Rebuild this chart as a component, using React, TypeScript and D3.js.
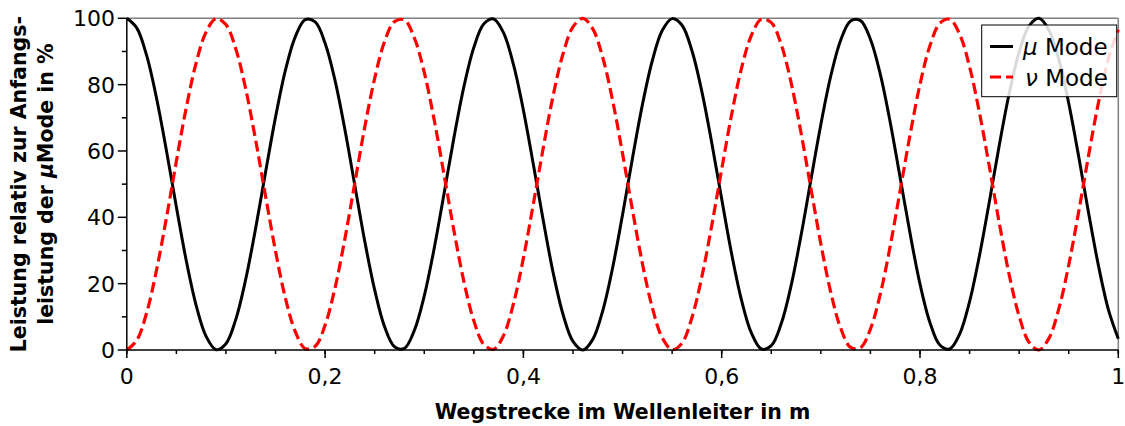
import React from "react";
import * as d3 from "d3";

// sampled every 0.01 m along the waveguide (0 .. 1 m)
const xSteps: number[] = d3.range(0, 101).map((k) => k / 100);

const muMode: number[] = [
  100.0, 97.1, 88.8, 75.9, 60.1, 43.1, 26.9, 13.4, 4.1, 0.1,
  1.9, 9.3, 21.4, 36.8, 53.7, 70.2, 84.4, 94.5, 99.6, 98.9,
  92.5, 81.3, 66.4, 49.6, 32.8, 18.1, 7.0, 1.0, 0.5, 5.9,
  16.3, 30.6, 47.2, 64.1, 79.4, 91.2, 98.3, 99.8, 95.6, 86.0,
  72.3, 56.0, 39.1, 23.3, 10.7, 2.6, 0.0, 3.2, 11.8, 24.8,
  40.8, 57.8, 73.9, 87.2, 96.3, 99.9, 97.9, 90.2, 77.9, 62.4,
  45.5, 29.0, 15.0, 5.1, 0.3, 1.3, 7.9, 19.4, 34.5, 51.3,
  68.0, 82.6, 93.4, 99.2, 99.3, 93.7, 83.1, 68.6, 51.9, 35.1,
  19.9, 8.3, 1.5, 0.3, 4.8, 14.6, 28.5, 44.8, 61.8, 77.4,
  89.8, 97.7, 100.0, 96.5, 87.6, 74.4, 58.4, 41.4, 25.4, 12.2,
  3.4,
];

const nuMode: number[] = [
  0.0, 2.9, 11.2, 24.1, 39.9, 56.9, 73.1, 86.6, 95.9, 99.9,
  98.1, 90.7, 78.6, 63.2, 46.3, 29.8, 15.6, 5.5, 0.4, 1.1,
  7.5, 18.7, 33.6, 50.4, 67.2, 81.9, 93.0, 99.0, 99.5, 94.1,
  83.7, 69.4, 52.8, 35.9, 20.6, 8.8, 1.7, 0.2, 4.4, 14.0,
  27.7, 44.0, 60.9, 76.7, 89.3, 97.4, 100.0, 96.8, 88.2, 75.2,
  59.2, 42.2, 26.1, 12.8, 3.7, 0.1, 2.1, 9.8, 22.1, 37.6,
  54.5, 71.0, 85.0, 94.9, 99.7, 98.7, 92.1, 80.6, 65.5, 48.7,
  32.0, 17.4, 6.6, 0.8, 0.7, 6.3, 16.9, 31.4, 48.1, 64.9,
  80.1, 91.7, 98.5, 99.7, 95.2, 85.4, 71.5, 55.2, 38.2, 22.6,
  10.2, 2.3, 0.0, 3.5, 12.4, 25.6, 41.6, 58.6, 74.6, 87.8,
  96.6,
];

const xMajorTicks = [0, 0.2, 0.4, 0.6, 0.8, 1];
const xMinorTicks = d3.range(0, 21).map((k) => k / 20);
const yMajorTicks = [0, 20, 40, 60, 80, 100];
const yMinorTicks = [10, 30, 50, 70, 90];

const W = 1125;
const H = 426;
const FONT = "'DejaVu Sans', Verdana, sans-serif";

export default function App() {
  const x = d3.scaleLinear().domain([0, 1]).range([126.8, 1118.3]);
  const y = d3.scaleLinear().domain([0, 100]).range([350, 18.3]);

  // smooth through the samples, the original looks like a fine polyline
  const line = d3
    .line<number>()
    .x((_, i) => x(xSteps[i]))
    .y((d) => y(d))
    .curve(d3.curveCatmullRom.alpha(0.5));

  const fmt = (v: number) => String(v).replace(".", ",");

  const [x0, x1] = x.range();
  const [yb, yt] = y.range();
  const xMid = (x0 + x1) / 2;

  return (
    <svg
      width={W}
      height={H}
      style={{ position: "absolute", left: 0, top: 0, background: "#fff" }}
      fontFamily={FONT}
    >
      {/* frame: top + right in gray */}
      <line x1={x0} x2={x1} y1={yt} y2={yt} stroke="#808080" strokeWidth={1.5} />
      <line x1={x1} x2={x1} y1={yt} y2={yb} stroke="#808080" strokeWidth={1.5} />

      {/* curves */}
      <path d={line(muMode) ?? ""} fill="none" stroke="#000" strokeWidth={3} strokeLinejoin="round" />
      <path
        d={line(nuMode) ?? ""}
        fill="none"
        stroke="#ff0000"
        strokeWidth={3.2}
        strokeDasharray="11,5"
      />

      {/* axes */}
      <line x1={x0} x2={x0} y1={yt} y2={yb} stroke="#000" strokeWidth={1.5} />
      <line x1={x0} x2={x1} y1={yb} y2={yb} stroke="#000" strokeWidth={1.5} />

      {xMinorTicks.map((t) => (
        <line key={"xm" + t} x1={x(t)} x2={x(t)} y1={yb} y2={yb + 4} stroke="#000" strokeWidth={1.5} />
      ))}
      {xMajorTicks.map((t) => (
        <g key={"xM" + t}>
          <line x1={x(t)} x2={x(t)} y1={yb} y2={yb + 8} stroke="#000" strokeWidth={1.5} />
          <text x={x(t)} y={384} textAnchor="middle" fontSize={22}>
            {fmt(t)}
          </text>
        </g>
      ))}
      {yMinorTicks.map((t) => (
        <line key={"ym" + t} x1={x0 - 5} x2={x0} y1={y(t)} y2={y(t)} stroke="#000" strokeWidth={1.5} />
      ))}
      {yMajorTicks.map((t) => (
        <g key={"yM" + t}>
          <line x1={x0 - 9} x2={x0} y1={y(t)} y2={y(t)} stroke="#000" strokeWidth={1.5} />
          <text x={115} y={y(t) + 8} textAnchor="end" fontSize={22}>
            {t}
          </text>
        </g>
      ))}

      {/* axis titles */}
      <text x={xMid} y={419} textAnchor="middle" fontSize={20.5} fontWeight="bold">
        Wegstrecke im Wellenleiter in m
      </text>
      <g transform={`translate(26,${(yt + yb) / 2}) rotate(-90)`}>
        <text x={0} y={0} textAnchor="middle" fontSize={20.5} fontWeight="bold">
          Leistung relativ zur Anfangs-
        </text>
        <text x={0} y={27} textAnchor="middle" fontSize={20.5} fontWeight="bold">
          leistung der <tspan fontStyle="italic">μ</tspan>Mode in %
        </text>
      </g>

      {/* legend */}
      <g>
        <rect x={981.7} y={25} width={135} height={71.7} fill="#fff" fillOpacity={0.85} stroke="#000" strokeWidth={1} />
        <line x1={990} x2={1013} y1={46.5} y2={46.5} stroke="#000" strokeWidth={3} />
        <text x={1023} y={55} fontSize={23}>
          <tspan fontStyle="italic">μ</tspan> Mode
        </text>
        <line x1={990} x2={1013} y1={77} y2={77} stroke="#ff0000" strokeWidth={3} strokeDasharray="11,5" />
        <text x={1025} y={86} fontSize={23}>
          <tspan fontStyle="italic">ν</tspan> Mode
        </text>
      </g>
    </svg>
  );
}
